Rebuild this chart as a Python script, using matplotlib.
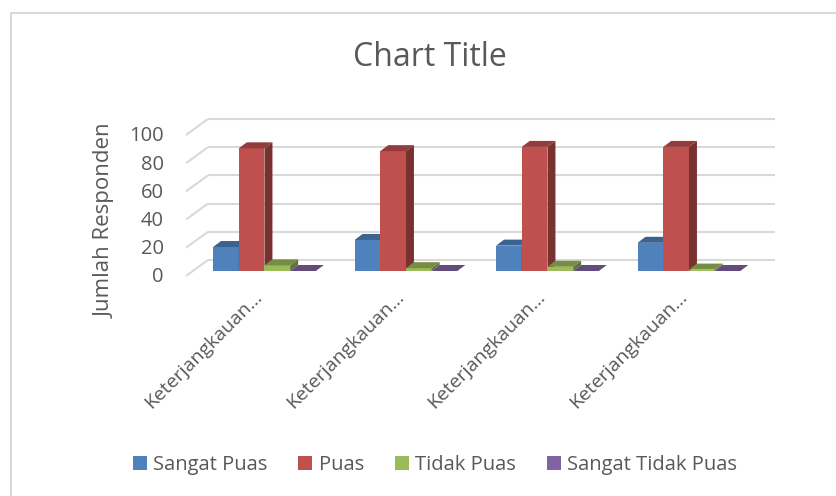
import matplotlib.pyplot as plt
from matplotlib.patches import Polygon, Rectangle
from matplotlib.colors import to_rgb

plt.rcParams['font.family'] = ['Open Sans', 'DejaVu Sans']

# data
categories = ['Keterjangkauan…', 'Keterjangkauan…', 'Keterjangkauan…', 'Keterjangkauan…']
series = ['Sangat Puas', 'Puas', 'Tidak Puas', 'Sangat Tidak Puas']
sangat_puas = [17, 22, 18, 20]
puas = [87, 85, 88, 88]
tidak_puas = [4, 2, 3, 1]
sangat_tidak_puas = [0, 0, 0, 0]
yticks = [0, 20, 40, 60, 80, 100]

values = [sangat_puas, puas, tidak_puas, sangat_tidak_puas]
colors = ['#4F81BD', '#C0504D', '#9BBB59', '#8064A2']
text_color = '#595959'
grid_color = '#D9D9D9'


def shade(c, f):
    r, g, b = to_rgb(c)
    return (r * f, g * f, b * f)


fig = plt.figure(figsize=(8.37, 4.96), dpi=100)
ax = fig.add_axes([0, 0, 1, 1])
ax.set_xlim(-1.8657, 4.0495)
ax.set_ylim(-159.57, 192.2)
ax.axis('off')

# fake 3d: depth offsets in data units
bar_w = 0.1816
dx, dy = 0.0565, 4.26          # bar depth
fx, fy = -0.048, -3.5          # front of walls
bx, by = 0.107, 7.8            # back wall
x_wall = -0.503                # left wall (at bar-front depth)
x_right = 3.611

for v in yticks:
    ax.plot([x_wall + fx, x_wall + bx], [v + fy, v + by], color=grid_color, lw=1.5, zorder=0,
            solid_capstyle='butt')
    ax.plot([x_wall + bx, x_right], [v + by, v + by], color=grid_color, lw=1.5, zorder=0,
            solid_capstyle='butt')
    ax.text(-0.707, v - 4.5, str(v), ha='right', va='center', fontsize=14.5, color=text_color)

handles = []
for j, (vals, c) in enumerate(zip(values, colors)):
    lefts = [i - 0.36 + j * bar_w for i in range(len(categories))]
    bars = ax.bar(lefts, vals, width=bar_w, align='edge', color=c, lw=0, zorder=2 + j)
    handles.append(bars)
    for l, v in zip(lefts, vals):
        top = Polygon([(l, v), (l + bar_w, v), (l + bar_w + dx, v + dy), (l + dx, v + dy)],
                      closed=True, facecolor=shade(c, 0.76), lw=0, zorder=2 + j)
        side = Polygon([(l + bar_w, 0), (l + bar_w + dx, dy), (l + bar_w + dx, v + dy), (l + bar_w, v)],
                       closed=True, facecolor=shade(c, 0.62), lw=0, zorder=2 + j)
        ax.add_patch(top)
        ax.add_patch(side)

for i, cat in enumerate(categories):
    ax.text(i - 0.075, -12, cat, rotation=45, rotation_mode='anchor', ha='right', va='top',
            fontsize=14, color=text_color)

fig.text(430 / 837, 1 - 58 / 496, 'Chart Title', ha='center', va='center', fontsize=23, color=text_color)
fig.text(105 / 837, 1 - 221 / 496, 'Jumlah Responden', ha='center', va='center', rotation=90,
         fontsize=16, color=text_color)

ax.legend(handles, series, loc='center', bbox_to_anchor=(435 / 837, 1 - 465 / 496), ncol=4,
          frameon=False, handlelength=0.7, handleheight=0.7, handletextpad=0.3,
          columnspacing=1.55, fontsize=14.5, labelcolor=text_color)

fig.patches.append(Rectangle((11 / 837, -0.05), 1.1, 1.05 - 13.5 / 496, transform=fig.transFigure,
                             fill=False, edgecolor=grid_color, lw=1.5))

fig.savefig('out.png', dpi=100)
